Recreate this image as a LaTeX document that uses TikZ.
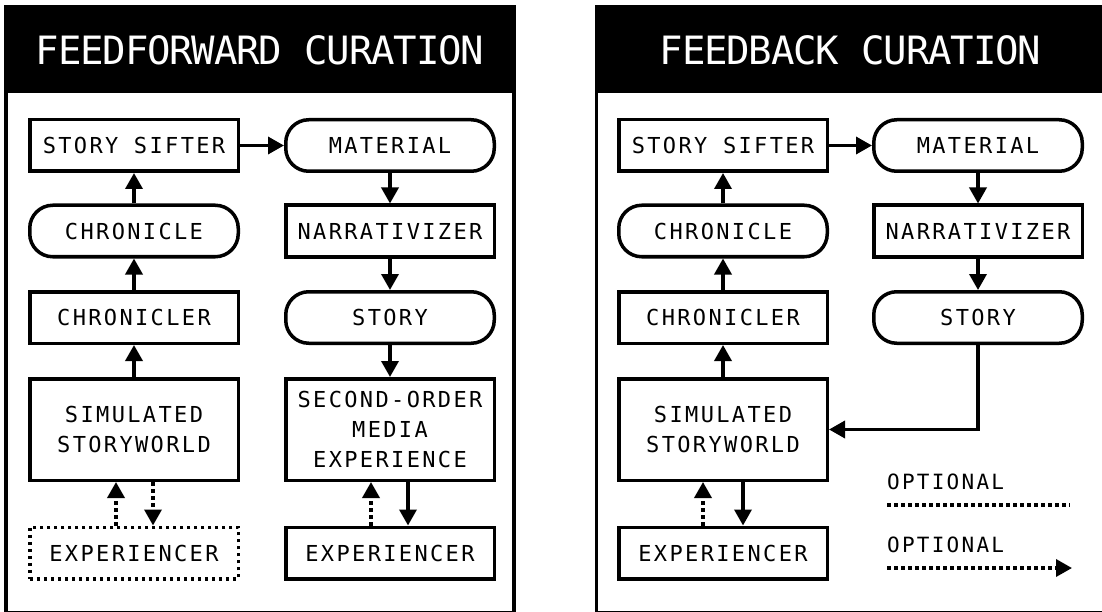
\documentclass[tikz,border=0pt]{standalone}
\usepackage{fontspec}
\usetikzlibrary{arrows.meta}
\newfontfamily\boxfont[LetterSpace=10.7]{DejaVu Sans Mono}
\newfontfamily\headfont[LetterSpace=-3]{DejaVu Sans Mono}
\begin{document}
\begin{tikzpicture}[x=1pt,y=-1pt,
  panel/.style={draw, line width=3.5pt},
  headtxt/.style={text=white, inner sep=0pt, font=\headfont\fontsize{39}{39}\selectfont},
  sqbox/.style={draw, line width=3.5pt, minimum width=208.5pt, minimum height=51.5pt, inner sep=0pt,
    font=\boxfont\fontsize{22}{30}\selectfont, align=center},
  rdbox/.style={sqbox, rounded corners=23pt},
  tallbox/.style={sqbox, minimum height=101.5pt},
  dotbox/.style={sqbox, dash pattern=on 3.5pt off 3.5pt},
  legtxt/.style={inner sep=0pt, anchor=west, font=\boxfont\fontsize{21}{21}\selectfont},
  arr/.style={line width=3.5pt, -{Triangle[length=16pt,width=17pt]}},
  optarr/.style={arr, dash pattern=on 3.5pt off 3.5pt},
  optline/.style={line width=3.5pt, dash pattern=on 3.5pt off 3.5pt}
]
\useasboundingbox (0,0) rectangle (1102,612);

% ---------- left panel ----------
\fill (6,7) rectangle (514,93);
\draw[panel] (6,7) rectangle (514,613);
\node[headtxt] (t1) at (260,50) {FEEDFORWARD CURATION};

\node[sqbox]   (ss1)  at (134,145.5) {STORY SIFTER};
\node[rdbox]   (mat1) at (390,145.5) {MATERIAL};
\node[rdbox]   (chr1) at (134,231)   {CHRONICLE};
\node[sqbox]   (nar1) at (390,231)   {NARRATIVIZER};
\node[sqbox]   (cr1)  at (134,317.5) {CHRONICLER};
\node[rdbox]   (sto1) at (390,317.5) {STORY};
\node[tallbox] (sim1) at (134,429.5) {SIMULATED\\STORYWORLD};
\node[tallbox] (sec1) at (390,429.5) {SECOND-ORDER\\MEDIA\\EXPERIENCE};
\node[dotbox]  (exA)  at (134,553)   {EXPERIENCER};
\node[sqbox]   (exB)  at (390,553)   {EXPERIENCER};

\draw[arr] (ss1) -- (mat1);
\draw[arr] (chr1) -- (ss1);
\draw[arr] (cr1) -- (chr1);
\draw[arr] (sim1) -- (cr1);
\draw[arr] (mat1) -- (nar1);
\draw[arr] (nar1) -- (sto1);
\draw[arr] (sto1) -- (sec1);
\draw[optarr] ([xshift=-18pt]exA.north) -- ([xshift=-18pt]sim1.south);
\draw[optarr] ([xshift=19pt]sim1.south) -- ([xshift=19pt]exA.north);
\draw[optarr] ([xshift=-19pt]exB.north) -- ([xshift=-19pt]sec1.south);
\draw[arr] ([xshift=18pt]sec1.south) -- ([xshift=18pt]exB.north);

% ---------- right panel ----------
\fill (596.5,7) rectangle (1104.5,93);
\draw[panel] (596.5,7) rectangle (1104.5,613);
\node[headtxt] (t2) at (850.5,50) {FEEDBACK CURATION};

\node[sqbox]   (ss2)  at (723,145.5) {STORY SIFTER};
\node[rdbox]   (mat2) at (978,145.5) {MATERIAL};
\node[rdbox]   (chr2) at (723,231)   {CHRONICLE};
\node[sqbox]   (nar2) at (978,231)   {NARRATIVIZER};
\node[sqbox]   (cr2)  at (723,317.5) {CHRONICLER};
\node[rdbox]   (sto2) at (978,317.5) {STORY};
\node[tallbox] (sim2) at (723,429.5) {SIMULATED\\STORYWORLD};
\node[sqbox]   (exC)  at (723,553)   {EXPERIENCER};

\draw[arr] (ss2) -- (mat2);
\draw[arr] (chr2) -- (ss2);
\draw[arr] (cr2) -- (chr2);
\draw[arr] (sim2) -- (cr2);
\draw[arr] (mat2) -- (nar2);
\draw[arr] (nar2) -- (sto2);
\draw[arr] (sto2.south) |- (sim2.east);
\draw[optarr] ([xshift=-20pt]exC.north) -- ([xshift=-20pt]sim2.south);
\draw[arr] ([xshift=20pt]sim2.south) -- ([xshift=20pt]exC.north);

% legend
\node[legtxt] (lg1) at (887,481.5) {OPTIONAL};
\node[legtxt] (lg2) at (887,545)   {OPTIONAL};
\coordinate (la) at (887,505);
\coordinate (lb) at (1070,505);
\coordinate (lc) at (887,568);
\coordinate (ld) at (1072,568);
\draw[optline] (la) -- (lb);
\draw[optarr] (lc) -- (ld);
\end{tikzpicture}
\end{document}
